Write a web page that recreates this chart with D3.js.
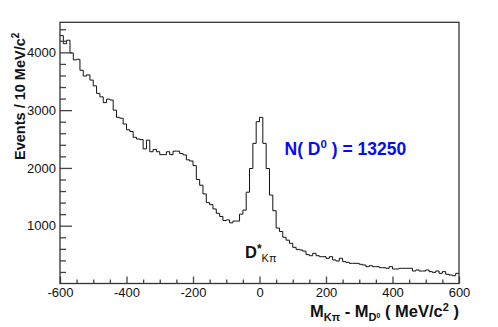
<!DOCTYPE html>
<html>
<head>
<meta charset="utf-8">
<script src="https://cdn.jsdelivr.net/npm/d3@7"></script>
<style>
  body { margin: 0; background: #fff; }
  text { font-family: "Liberation Sans", Arial, sans-serif; }
</style>
</head>
<body>
<div id="chart"></div>
<script>
// Dimensions
var W = 498, H = 327;
var margins = {top: 22.3, left: 60, right: 39, bottom: 43.5};
var width = W - margins.left - margins.right;
var height = H - margins.top - margins.bottom;

// Histogram: 120 bins of 10 MeV from -600 to 600
var binWidth = 10;
var xMin = -600, xMax = 600;
var counts = [
  4290, 4150, 4210, 3990, 3870, 3880, 3690, 3590, 3610, 3520,
  3420, 3290, 3230, 3130, 3190, 3175, 3000, 2875, 2860, 2760,
  2660, 2630, 2530, 2500, 2490, 2330, 2480, 2280, 2320, 2280,
  2230, 2230, 2280, 2230, 2290, 2290, 2250, 2225, 2140, 2120,
  2040, 1800, 1700, 1550, 1400, 1365, 1290, 1215, 1160, 1090,
  1100, 1050, 1080, 1080, 1200, 1270, 1580, 1990, 2425, 2800,
  2875, 2425, 1990, 1530, 1260, 960, 900, 800, 750, 695,
  626, 590, 580, 560, 500, 481, 522, 481, 464, 464,
  436, 464, 407, 389, 436, 378, 366, 349, 349, 349,
  332, 320, 291, 308, 291, 291, 274, 274, 263, 291,
  251, 251, 263, 263, 263, 263, 216, 234, 216, 216,
  234, 205, 193, 216, 176, 205, 159, 147, 135, 176
];
var yMax = 4520;

var xMajor = [-600, -400, -200, 0, 200, 400, 600];
var xMinor = d3.range(-550, 600, 50).filter(function(v){ return v % 200 != 0; });
var yMajor = [1000, 2000, 3000, 4000];
var yMinor = d3.range(200, 4500, 200).filter(function(v){ return v % 1000 != 0; });

var svg = d3.select("#chart").append("svg")
  .attr("width", W)
  .attr("height", H);

var g = svg.append("g")
  .attr("transform", "translate(" + margins.left + "," + margins.top + ")");

var x = d3.scaleLinear().domain([xMin, xMax]).range([0, width]);
var y = d3.scaleLinear().domain([0, yMax]).range([height, 0]);

// plain labels, ascii minus
var plain = function(d){ return String(d); };

// Histogram outline (step)
var pts = counts.map(function(c, i){ return [xMin + i * binWidth, c]; });
pts.push([xMax, counts[counts.length - 1]]);

var line = d3.line()
  .x(function(d){ return x(d[0]); })
  .y(function(d){ return y(d[1]); })
  .curve(d3.curveStepAfter);

g.append("path")
  .datum(pts)
  .attr("d", line)
  .attr("fill", "none")
  .attr("stroke", "#111")
  .attr("stroke-width", 1);

// Axes (ticks point inside the frame)
function styleAxis(sel){
  sel.select(".domain").remove();
  sel.selectAll("line").attr("stroke", "#444").attr("stroke-width", 1.3);
  sel.selectAll("text")
    .attr("font-family", "Liberation Sans, Arial, sans-serif")
    .attr("font-size", 13)
    .attr("fill", "#111");
}

g.append("g")
  .attr("transform", "translate(0," + height + ")")
  .call(d3.axisBottom(x).tickValues(xMajor).tickFormat(plain).tickSizeInner(-7).tickSizeOuter(0).tickPadding(4))
  .call(styleAxis);

g.append("g")
  .attr("transform", "translate(0," + height + ")")
  .call(d3.axisBottom(x).tickValues(xMinor).tickSizeInner(-4).tickSizeOuter(0).tickFormat(""))
  .call(styleAxis);

g.append("g")
  .call(d3.axisLeft(y).tickValues(yMajor).tickFormat(plain).tickSizeInner(-12).tickSizeOuter(0).tickPadding(4))
  .call(styleAxis);

g.append("g")
  .call(d3.axisLeft(y).tickValues(yMinor).tickSizeInner(-6).tickSizeOuter(0).tickFormat(""))
  .call(styleAxis);

// Frame
g.append("rect")
  .attr("width", width)
  .attr("height", height)
  .attr("fill", "none")
  .attr("stroke", "#333")
  .attr("stroke-width", 1.3);

// Y title
var yt = svg.append("text")
  .attr("transform", "translate(24.5," + (margins.top + 74) + ") rotate(-90)")
  .attr("text-anchor", "middle")
  .attr("font-size", 14.5)
  .attr("font-weight", "bold")
  .attr("fill", "#111");
yt.append("tspan").text("Events / 10  MeV/c");
yt.append("tspan").attr("dy", -6).attr("font-size", 10).text("2");

// X title
var xt = svg.append("text")
  .attr("x", margins.left + width)
  .attr("y", 316.5)
  .attr("text-anchor", "end")
  .attr("font-size", 16.5)
  .attr("font-weight", "bold")
  .attr("fill", "#111");
xt.append("tspan").text("M");
xt.append("tspan").attr("dy", 4).attr("font-size", 11).text("Kπ");
xt.append("tspan").attr("dy", -4).text(" - M");
xt.append("tspan").attr("dy", 4).attr("font-size", 11).text("D");
xt.append("tspan").attr("dy", -3).attr("font-size", 7).text("0");
xt.append("tspan").attr("dy", -1).text(" ( MeV/c");
xt.append("tspan").attr("dy", -6).attr("font-size", 11).text("2");
xt.append("tspan").attr("dy", 6).text(" )");

// Signal yield label
var nt = svg.append("text")
  .attr("x", 284.5)
  .attr("y", 155)
  .attr("font-size", 17.5)
  .attr("font-weight", "bold")
  .attr("fill", "#0a0af0");
nt.append("tspan").text("N( D");
nt.append("tspan").attr("dy", -7).attr("font-size", 11.5).text("0");
nt.append("tspan").attr("dy", 7).text(" ) = 13250");

// D* label
var dt = svg.append("text")
  .attr("x", 245)
  .attr("y", 258)
  .attr("font-size", 16.5)
  .attr("font-weight", "bold")
  .attr("fill", "#111");
dt.append("tspan").text("D");
dt.append("tspan").attr("dy", -5).attr("font-size", 12).text("*");
dt.append("tspan").attr("dy", 9).attr("font-size", 11).attr("font-weight", "normal").text("Kπ");
</script>
</body>
</html>
